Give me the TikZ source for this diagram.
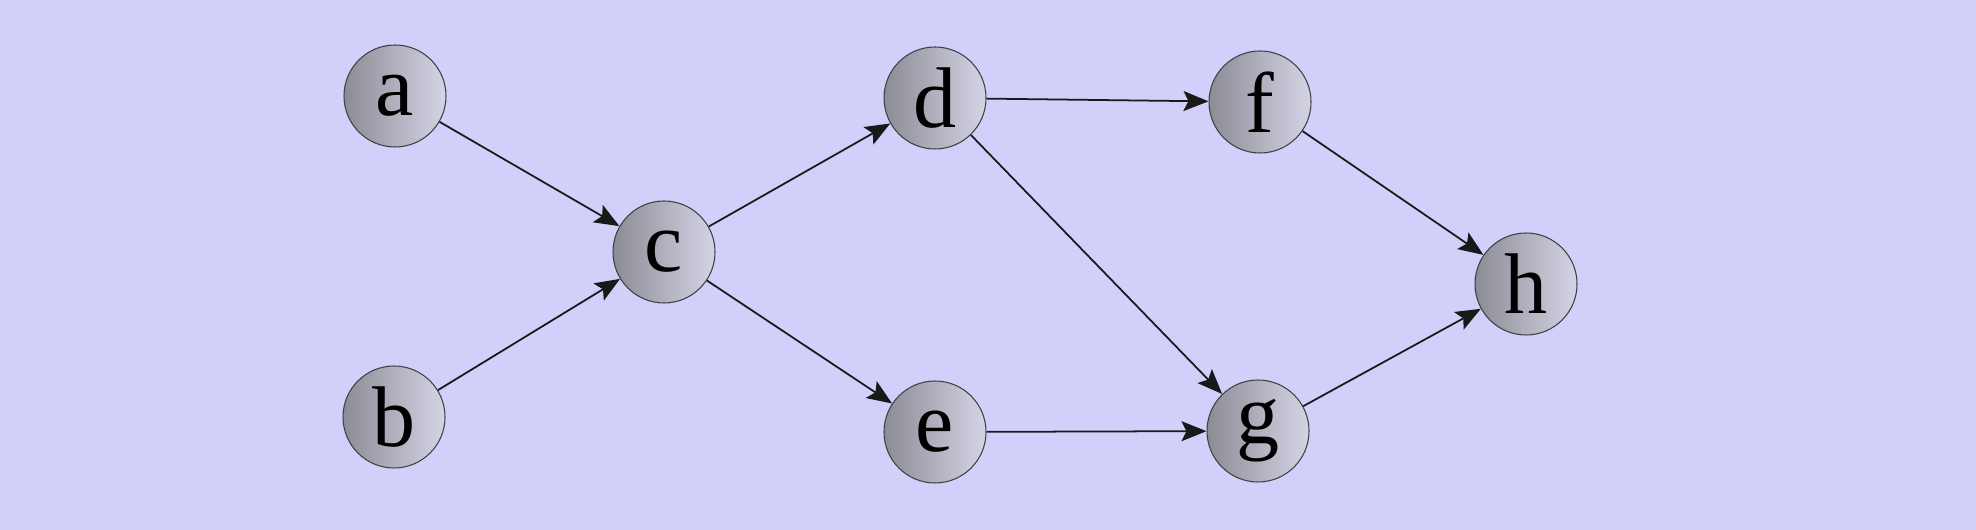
\documentclass[tikz,border=0pt]{standalone}
\usepackage{fontspec}
\setmainfont{Liberation Serif}
\usetikzlibrary{arrows.meta}
\definecolor{bgc}{RGB}{208,208,250}
\definecolor{nleft}{RGB}{140,140,150}
\definecolor{nright}{RGB}{212,212,230}
\tikzset{
  vert/.style={circle, draw=black!75, line width=0.6pt, minimum size=2.04cm, inner sep=0pt,
    left color=nleft, right color=nright, shading angle=90,
    font=\fontsize{49}{49}\selectfont},
  conn/.style={-{Stealth[length=5mm,width=4mm,inset=1mm]}, line width=1pt, black!90}
}
\begin{document}
\begin{tikzpicture}
\fill[bgc] (0,0) rectangle (39.52,10.6);
\useasboundingbox (0,0) rectangle (39.52,10.6);
\node[vert] (a) at (7.90,8.68) {a};
\node[vert] (b) at (7.88,2.26) {b};
\node[vert] (c) at (13.28,5.56) {c};
\node[vert] (d) at (18.70,8.64) {d};
\node[vert] (e) at (18.70,1.96) {e};
\node[vert] (f) at (25.20,8.56) {f};
\node[vert] (g) at (25.16,1.98) {g};
\node[vert] (h) at (30.52,4.92) {h};
\draw[conn] (a) -- (c);
\draw[conn] (b) -- (c);
\draw[conn] (c) -- (d);
\draw[conn] (c) -- (e);
\draw[conn] (d) -- (f);
\draw[conn] (d) -- (g);
\draw[conn] (e) -- (g);
\draw[conn] (f) -- (h);
\draw[conn] (g) -- (h);
\end{tikzpicture}
\end{document}
